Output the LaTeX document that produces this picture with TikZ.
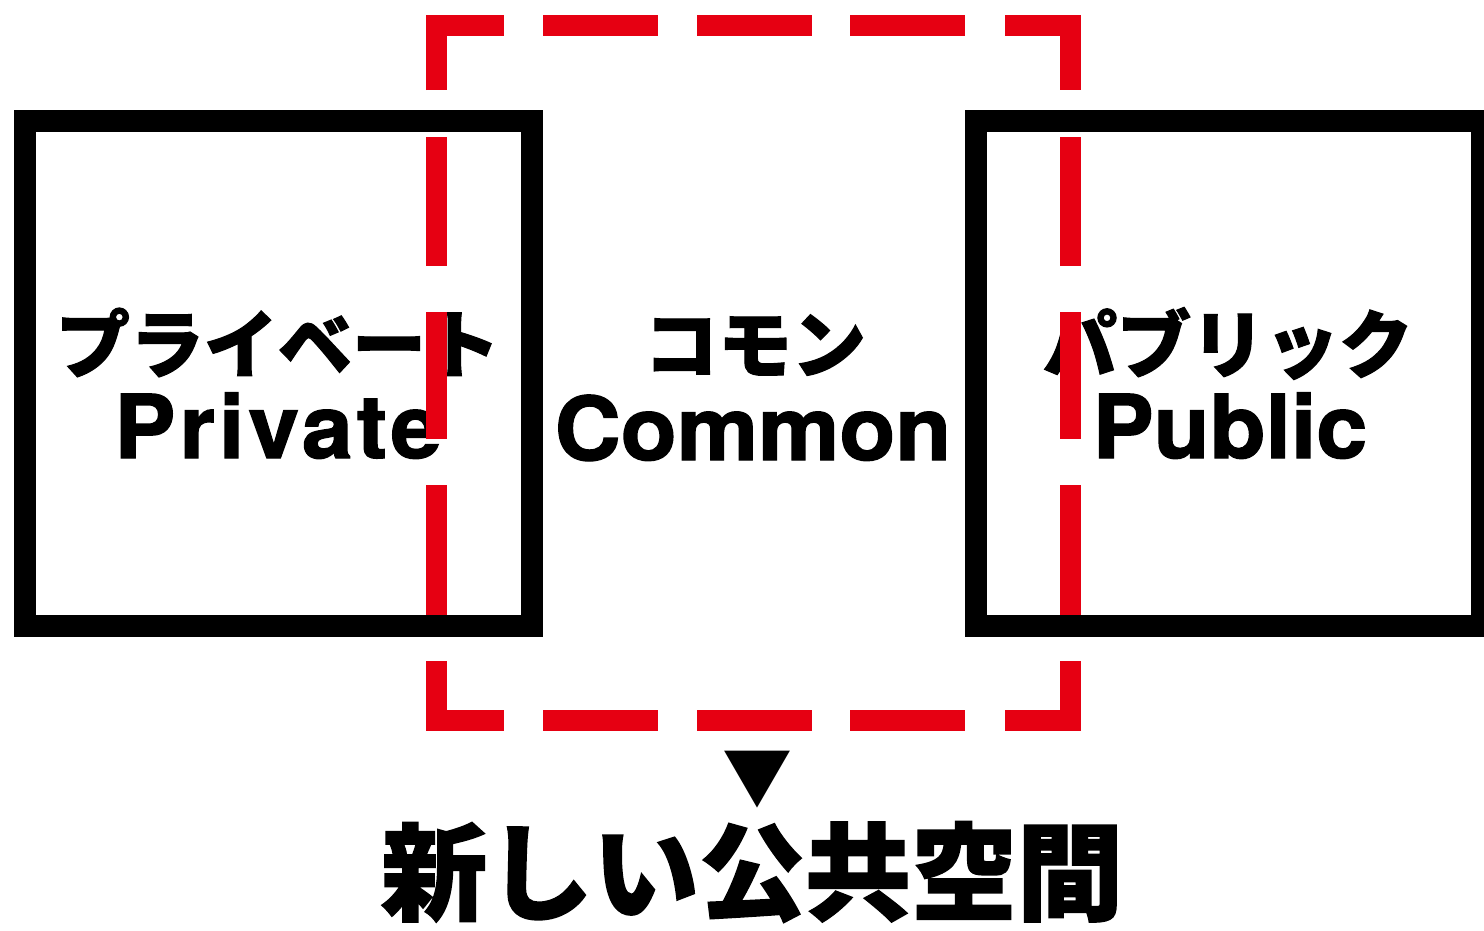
\documentclass[tikz,border=0pt]{standalone}
\usepackage{fontspec}
\newfontfamily\cjk{Noto Sans CJK JP}[BoldFeatures={FakeBold=1.5}]
\newfontfamily\lat{TeX Gyre Heros}[BoldFeatures={FakeBold=1.5,FakeStretch=1.04}]
\definecolor{jred}{RGB}{230,0,18}
\begin{document}
\begin{tikzpicture}[x=1pt,y=-1pt,
  box/.style={draw=black,line width=22pt,inner sep=0pt,minimum height=505pt},
  jp/.style={anchor=base,inner sep=0pt,font=\cjk\bfseries\fontsize{74}{80}\selectfont},
  en/.style={anchor=base,inner sep=0pt,font=\lat\bfseries\fontsize{88}{94}\selectfont},
  reddash/.style={draw=jred,line width=21pt,line cap=butt,line join=miter}]
\useasboundingbox (0,0) rectangle (1484,930);
\clip (0,0) rectangle (1484,930);
\fill[white] (0,0) rectangle (1484,930);
% boxes
\node[box,minimum width=507pt] (priv) at (278.5,373.5) {};
\node[box,minimum width=506pt] (pub) at (1229,373.5) {};
% texts
\node[jp] (privjp) at (278,372) {プライベート};
\node[en] (priven) at (278,458) {\addfontfeature{LetterSpace=4.5}Private};
\node[jp] (comjp) at (755,372) {コモン};
\node[en] (comen) at (753,460) {Common};
\node[jp] (pubjp) at (1228,372) {パブリック};
\node[en] (puben) at (1230,458) {Public};
% red dashed frame
\coordinate (tl) at (436,25);
\coordinate (tr) at (1070,25);
\coordinate (bl) at (436,720);
\coordinate (br) at (1070,720);
\draw[reddash] ([yshift=-65pt]tl) -- (tl) -- ([xshift=68pt]tl);
\draw[reddash] ([xshift=-65pt]tr) -- (tr) -- ([yshift=-65pt]tr);
\draw[reddash] ([yshift=59pt]bl) -- (bl) -- ([xshift=68pt]bl);
\draw[reddash] ([xshift=-65pt]br) -- (br) -- ([yshift=59pt]br);
\foreach \a/\b in {543/658,697/812,850/965}{
  \draw[reddash] (\a,25) -- (\b,25);
  \draw[reddash] (\a,720) -- (\b,720);
}
\foreach \a/\b in {137/266,312/439,485/615}{
  \draw[reddash] (436,\a) -- (436,\b);
  \draw[reddash] (1070,\a) -- (1070,\b);
}
% arrow mark and caption
\node[inner sep=0pt,font=\cjk\fontsize{70}{74}\selectfont] (tri) at (757,780) {▼};
\node[anchor=base,inner sep=0pt,font=\cjk\bfseries\fontsize{106}{110}\selectfont] (cap) at (752,912) {新しい公共空間};
\end{tikzpicture}
\end{document}
